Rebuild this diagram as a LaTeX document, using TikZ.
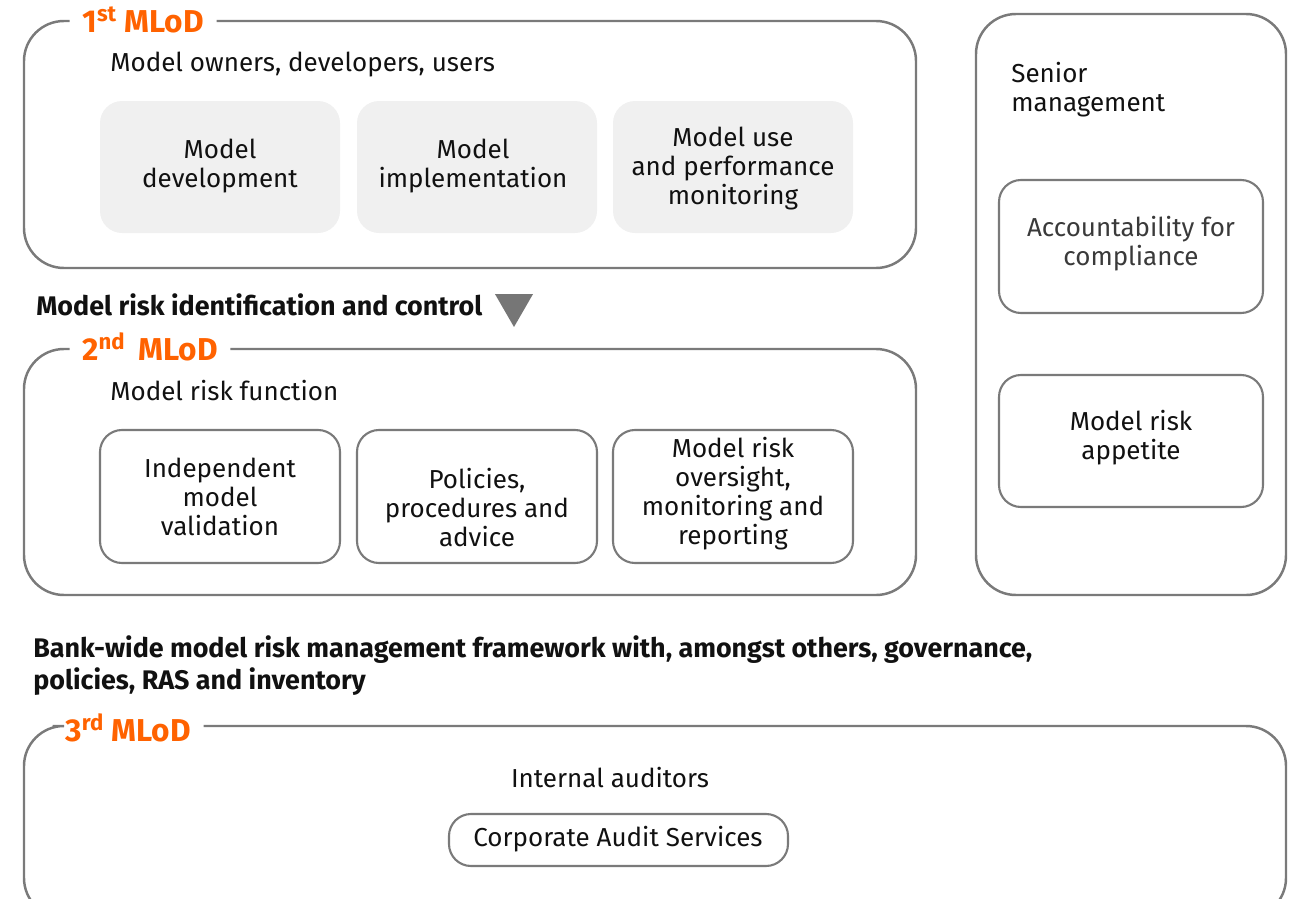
\documentclass[tikz,border=0pt]{standalone}
\usepackage{fontspec}
\setmainfont{Fira Sans}
\usetikzlibrary{shapes.geometric}
\definecolor{frame}{HTML}{7A7A7A}
\definecolor{ingorange}{HTML}{FF6200}
\definecolor{lightfill}{HTML}{F0F0F0}
\definecolor{txt}{HTML}{111111}
\definecolor{softtxt}{HTML}{3A3A3A}
\definecolor{tri}{HTML}{767676}
\tikzset{
  outerframe/.style={draw=frame, line width=1.4pt, rounded corners=0.8cm},
  title/.style={text=ingorange, font=\fontsize{18}{20}\selectfont\bfseries, inner sep=0pt},
  body/.style={text=txt, font=\fontsize{14.8}{16.5}\selectfont, inner sep=0pt},
  bodybold/.style={text=txt, font=\fontsize{15.3}{18.2}\selectfont\bfseries, inner sep=0pt, align=left},
  greybox/.style={fill=lightfill, rounded corners=0.44cm},
  linebox/.style={draw=frame, line width=1.2pt, rounded corners=0.44cm},
}
\newcommand{\boxat}[6]{% name, style, x1, y1, x2, y2
  \path[#2] (#3,#4) rectangle (#5,#6);
  \coordinate (#1) at ({(#3+#5)/2},{(#4+#6)/2});}
\begin{document}
\begin{tikzpicture}[x=0.02cm, y=-0.02cm]
\useasboundingbox (0,0) rectangle (1292,899);
\clip (0,0) rectangle (1292,899);

% ---------- 1st MLoD ----------
\node[title, anchor=west] (t1) at (82,20) {1\textsuperscript{st} MLoD};
\draw[outerframe] ([xshift=7pt]t1.east |- 0,21) -- (916,21) -- (916,268) -- (24,268) -- (24,21) -- ([xshift=-7pt]t1.west |- 0,21);
\node[body, anchor=west] (l1) at (110,65) {Model owners, developers, users};

\boxat{a1}{greybox}{100}{101}{340}{233}
\boxat{a2}{greybox}{357}{101}{597}{233}
\boxat{a3}{greybox}{613}{101}{853}{233}
\node[body, align=center] (na1) at (220,166) {Model\\development};
\node[body, align=center] (na2) at (473,166) {Model\\implementation};
\node[body, align=center] (na3) at (733,169) {Model use\\and performance\\monitoring};

% ---------- arrow label ----------
\node[bodybold, anchor=west] (ctrl) at (36,305) {Model risk identification and control};
\node[fill=tri, isosceles triangle, shape border rotate=-90, isosceles triangle apex angle=60,
      minimum height=0.66cm, inner sep=0pt] (arrow) at (514,305) {};

% ---------- 2nd MLoD ----------
\node[title, anchor=west] (t2) at (82,347) {2\textsuperscript{nd}\, MLoD};
\draw[outerframe] ([xshift=7pt]t2.east |- 0,349) -- (916,349) -- (916,595) -- (24,595) -- (24,349) -- ([xshift=-7pt]t2.west |- 0,349);
\node[body, anchor=west] (l2) at (110,391) {Model risk function};

\boxat{b1}{linebox}{100}{430}{340}{563}
\boxat{b2}{linebox}{357}{430}{597}{563}
\boxat{b3}{linebox}{613}{430}{853}{563}
\node[body, align=center] (nb1) at (220,497) {Independent\\model\\validation};
\node[body, align=center] (nb2) at (477,508) {Policies,\\procedures and\\advice};
\node[body, align=center] (nb3) at (733,494) {Model risk\\oversight,\\monitoring and\\reporting};

% ---------- Senior management ----------
\path[outerframe] (976,14) rectangle (1286,595);
\node[body, align=left, anchor=north west] (sm) at (1011,62) {Senior\\management};
\boxat{c1}{linebox}{999}{180}{1263}{313}
\boxat{c2}{linebox}{999}{375}{1263}{507}
\node[body, align=center, text=softtxt] (nc1) at (1131,244) {Accountability for\\compliance};
\node[body, align=center] (nc2) at (1131,438) {Model risk\\appetite};

% ---------- framework text ----------
\node[bodybold, anchor=north west] (fw) at (33,635) {Bank-wide model risk management framework with, amongst others, governance,\\policies, RAS and inventory};

% ---------- 3rd MLoD ----------
\node[title, anchor=west] (t3) at (65,728) {3\textsuperscript{rd} MLoD};
\draw[outerframe] ([xshift=7pt]t3.east |- 0,726) -- (1286,726) -- (1286,918) -- (24,918) -- (24,726) -- ([xshift=-7pt]t3.west |- 0,726);
\node[body] (ia) at (610,778) {Internal auditors};
\boxat{d1}{linebox}{449}{814}{788}{866}
\node[body] (cas) at (618,839) {Corporate Audit Services};
\end{tikzpicture}
\end{document}
